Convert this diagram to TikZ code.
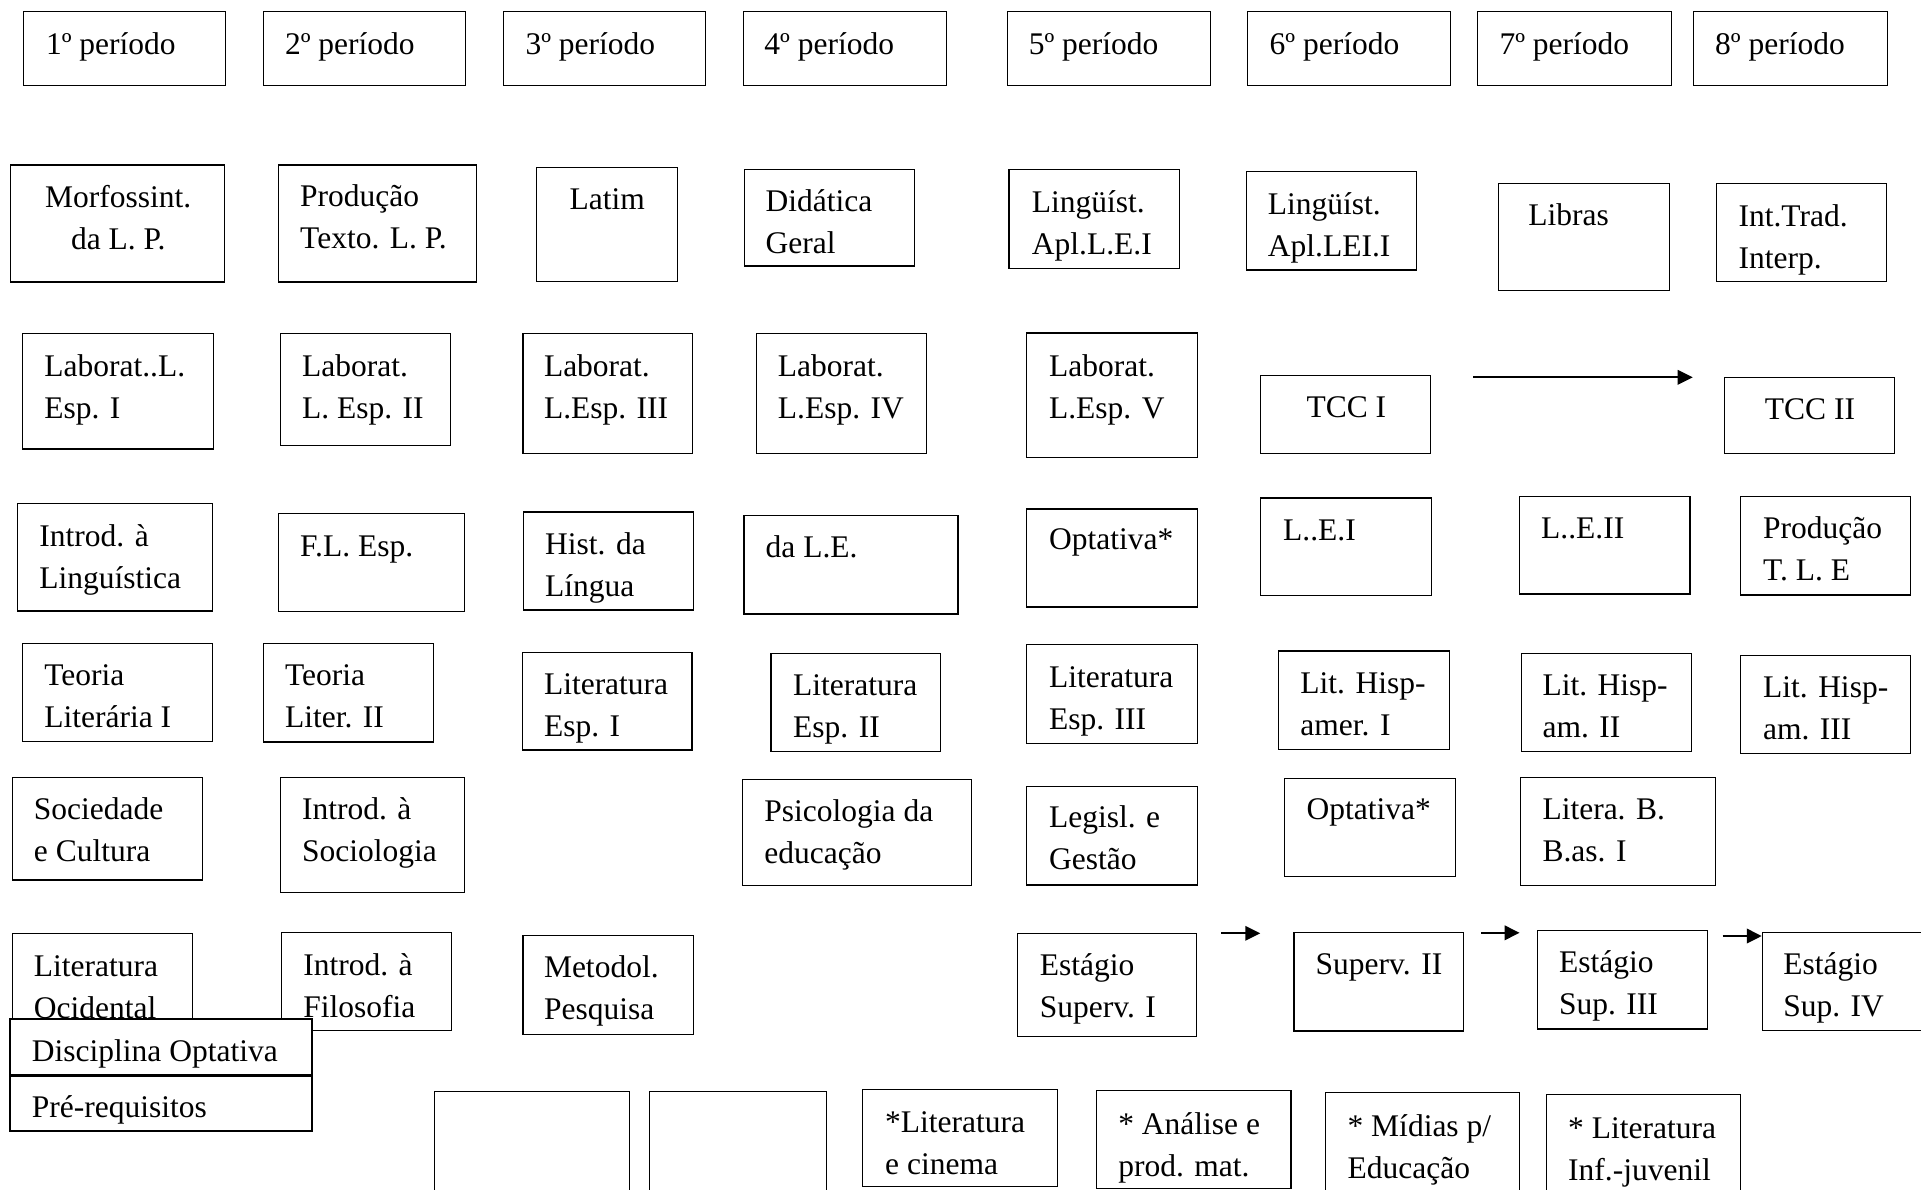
\documentclass[tikz,border=0pt]{standalone}
\usepackage{fontspec}
\setmainfont{Liberation Serif}
\usetikzlibrary{arrows.meta}
\tikzset{
  box/.style={draw, line width=1.1pt, inner sep=0pt, rectangle},
  legbox/.style={draw, line width=2pt, fill=white, inner sep=0pt, rectangle},
  txt/.style={anchor=base west, inner sep=0pt, font=\fontsize{31.5}{42}\selectfont},
  arr/.style={line width=2pt, -{Triangle[length=15pt, width=14.5pt]}},
}
\newcommand\bx[6][box]{\node[#1, minimum width={#5-#3}, minimum height={#6-#4}] (#2) at ({(#3+#5)/2},{(#4+#6)/2}) {};}
\newcommand\tx[4]{\node[txt] (#1) at (#2,{#3+1}) {#4};}
\newcommand\two[2]{\vtop{\hbox{#1}\hbox{#2}}}
\newcommand\twoc[2]{\vtop{\halign{\hfil##\hfil\cr#1\cr#2\cr}}}
\begin{document}
\begin{tikzpicture}[x=1pt,y=-1pt]
\useasboundingbox (0,0) rectangle (1921,1189);
\clip (0,0) rectangle (1921,1189);
% header row
\bx{p1}{23.3}{11.3}{225.3}{85.3}     \tx{tp1}{45.9}{53}{1º período}
\bx{p2}{263.3}{11.3}{465.4}{85.3}    \tx{tp2}{284.8}{53}{2º período}
\bx{p3}{503.4}{11.3}{705.4}{85.3}    \tx{tp3}{525.4}{53}{3º período}
\bx{p4}{743.4}{11.3}{946.1}{85.3}    \tx{tp4}{764.2}{53}{4º período}
\bx{p5}{1007.8}{11.3}{1210.1}{85.3}  \tx{tp5}{1028.6}{53}{5º período}
\bx{p6}{1247.4}{11.3}{1450.3}{85.3}  \tx{tp6}{1269.5}{53}{6º período}
\bx{p7}{1477.9}{11.3}{1671.6}{85.3}  \tx{tp7}{1499.3}{53}{7º período}
\bx{p8}{1693.6}{11.3}{1887.3}{85.3}  \tx{tp8}{1715}{53}{8º período}
% row 2
\bx{morf}{10.4}{165}{224.7}{282}
\node[txt, anchor=base] (tmorf) at (118.3,207.7) {\twoc{Morfossint.}{da L. P.}};
\bx{prod}{278.6}{165}{476.4}{282}      \tx{tprod}{300}{205.7}{\two{Produção}{Texto. L. P.}}
\bx{latim}{536.4}{167.3}{677.9}{281.3} \tx{tlatim}{569.5}{208.3}{Latim}
\bx{did}{744.6}{169.3}{914.3}{266}     \tx{tdid}{765.5}{210}{\two{Didática}{Geral}}
\bx{ling1}{1009}{169.3}{1179.4}{268.3} \tx{tling1}{1031.7}{211.7}{\two{Lingüíst.}{Apl.L.E.I}}
\bx{ling2}{1246.2}{171.7}{1416.6}{270} \tx{tling2}{1267.7}{213.3}{\two{Lingüíst.}{Apl.LEI.I}}
\bx{libras}{1498.7}{183.3}{1669.1}{290.7} \tx{tlibras}{1528.2}{224.3}{Libras}
\bx{inttrad}{1716.9}{183.3}{1886.7}{281.7} \tx{tinttrad}{1738.4}{225}{\two{Int.Trad.}{Interp.}}
% row 3
\bx{lab1}{22.7}{333.3}{213.1}{449}     \tx{tlab1}{44.1}{375}{\two{Laborat..L.}{Esp. I}}
\bx{lab2}{280.5}{333.3}{450.7}{445.3}  \tx{tlab2}{301.9}{375}{\two{Laborat.}{L. Esp. II}}
\bx{lab3}{523}{333.3}{692.6}{453.3}    \tx{tlab3}{543.8}{375}{\two{Laborat.}{L.Esp. III}}
\bx{lab4}{756.9}{333.3}{926.5}{453.3}  \tx{tlab4}{777.7}{375}{\two{Laborat.}{L.Esp. IV}}
\bx{lab5}{1026.8}{333}{1197.2}{457.3}  \tx{tlab5}{1048.9}{375}{\two{Laborat.}{L.Esp. V}}
\bx{tcc1}{1260.3}{375.3}{1430.7}{453.3} \tx{ttcc1}{1306.3}{416.7}{TCC I}
\bx{tcc2}{1724.9}{377.3}{1894.7}{453.3} \tx{ttcc2}{1764.7}{418.3}{TCC II}
\coordinate (a0s) at (1473.3,377.3);
\coordinate (a0e) at (1692.7,377.3);
\draw[arr] (a0s) -- (a0e);
% row 4
\bx{intl}{17.8}{503.3}{212.5}{611}     \tx{tintl}{39.2}{545}{\two{Introd. à}{Linguística}}
\bx{fle}{278.6}{513.3}{464.8}{611.7}   \tx{tfle}{300}{555}{F.L. Esp.}
\bx{hist}{523.6}{512}{693.8}{610}      \tx{thist}{545}{553.3}{\two{Hist. da}{Língua}}
\bx{dale}{744}{515.3}{958}{614}        \tx{tdale}{765.5}{556.7}{da L.E.}
\bx{opt5}{1026.8}{509}{1197.2}{607}    \tx{topt5}{1048.9}{548.3}{Optativa*}
\bx{lei}{1260.9}{498}{1431.3}{595.3}   \tx{tlei}{1283}{539.3}{L..E.I}
\bx{leii}{1519.6}{496.3}{1690}{594}    \tx{tleii}{1541}{537.7}{L..E.II}
\bx{ptle}{1740.8}{496.3}{1910.6}{595}  \tx{tptle}{1762.9}{537.3}{\two{Produção}{T. L. E}}
% row 5
\bx{teo1}{22.7}{643.7}{212.5}{741.3}   \tx{tteo1}{44.1}{684.3}{\two{Teoria}{Literária I}}
\bx{teo2}{263.9}{643.7}{433.6}{742}    \tx{tteo2}{284.8}{684.3}{\two{Teoria}{Liter. II}}
\bx{lit1}{522.4}{652.7}{692}{750}      \tx{tlit1}{543.8}{693.3}{\two{Literatura}{Esp. I}}
\bx{lit2}{771}{653.7}{940.6}{751.7}    \tx{tlit2}{793}{694.3}{\two{Literatura}{Esp. II}}
\bx{lit3}{1026.8}{644.7}{1197.8}{743.3} \tx{tlit3}{1048.9}{686}{\two{Literatura}{Esp. III}}
\bx{lh1}{1278.7}{651}{1449.1}{749.3}   \tx{tlh1}{1300.2}{692.7}{\two{Lit. Hisp-}{amer. I}}
\bx{lh2}{1521.4}{653.3}{1691.2}{751.7} \tx{tlh2}{1542.3}{694.3}{\two{Lit. Hisp-}{am. II}}
\bx{lh3}{1740.8}{655.3}{1910.6}{753.7} \tx{tlh3}{1762.9}{696}{\two{Lit. Hisp-}{am. III}}
% row 6
\bx{soc}{12.2}{777.3}{202.7}{880}      \tx{tsoc}{33.7}{818.3}{\two{Sociedade}{e Cultura}}
\bx{isoc}{280.5}{777.3}{464.8}{892.3}  \tx{tisoc}{301.9}{818.3}{\two{Introd. à}{Sociologia}}
\bx{psi}{742.8}{779.3}{971.5}{885.3}   \tx{tpsi}{764.2}{820.7}{\two{Psicologia da}{educação}}
\bx{leg}{1026.8}{786.7}{1197.2}{885}   \tx{tleg}{1048.9}{826.7}{\two{Legisl. e}{Gestão}}
\bx{opt6}{1284.8}{778.7}{1455.2}{876.7} \tx{topt6}{1306.3}{818.3}{Optativa*}
\bx{litb}{1520.8}{777.3}{1715.7}{885.3} \tx{tlitb}{1542.3}{818.3}{\two{Litera. B.}{B.as. I}}
% row 7
\bx{litoc}{12.2}{933.3}{192.9}{1045}   \tx{tlitoc}{33.7}{975}{\two{Literatura}{Ocidental}}
\bx{ifil}{281.7}{932.3}{451.3}{1030.7} \tx{tifil}{303.1}{974}{\two{Introd. à}{Filosofia}}
\bx{met}{523}{935.7}{693.2}{1034.7}    \tx{tmet}{543.8}{976.7}{\two{Metodol.}{Pesquisa}}
\bx{est1}{1017.6}{933.3}{1196.6}{1036.7} \tx{test1}{1039.7}{974}{\two{Estágio}{Superv. I}}
\bx{sup2}{1294}{932.3}{1463.8}{1031}   \tx{tsup2}{1315.5}{973.3}{Superv. II}
\bx{est3}{1537.4}{930.7}{1707.1}{1029} \tx{test3}{1558.8}{971}{\two{Estágio}{Sup. III}}
\bx{est4}{1762.3}{932.3}{1930}{1030.7} \tx{test4}{1783.1}{973.3}{\two{Estágio}{Sup. IV}}
\coordinate (a1s) at (1221,933.3);
\coordinate (a1e) at (1260.3,933.3);
\draw[arr] (a1s) -- (a1e);
\coordinate (a2s) at (1481,932.8);
\coordinate (a2e) at (1519.6,932.8);
\draw[arr] (a2s) -- (a2e);
\coordinate (a3s) at (1722.7,936);
\draw[arr] (a3s) -- (a3s -| est4.west);
% bottom row (optional disciplines)
\bx{e1}{434.8}{1091.7}{629.5}{1200}
\bx{e2}{649.1}{1091.7}{826.7}{1200}
\bx{lcin}{862.7}{1089.3}{1057.4}{1186.7} \tx{tlcin}{885}{1131.5}{\two{*Literatura}{e cinema}}
\bx{anal}{1096.1}{1090.7}{1291}{1188.3}  \tx{tanal}{1118.1}{1133}{\two{* Análise e}{prod. mat.}}
\bx{mid}{1325.9}{1092.3}{1519.6}{1200}   \tx{tmid}{1347.4}{1135.5}{\two{* Mídias p/}{Educação}}
\bx{linf}{1546.5}{1094.3}{1740.2}{1200}  \tx{tlinf}{1568}{1137}{\two{* Literatura}{Inf.-juvenil}}
% legend
\bx[legbox]{dopt}{10}{1019.3}{311.7}{1074.5}
\bx[legbox]{preq}{10}{1075.5}{311.7}{1130.7}
\tx{tdopt}{31.7}{1060.5}{Disciplina Optativa}
\tx{tpreq}{31.7}{1116}{Pré-requisitos}
\end{tikzpicture}
\end{document}
